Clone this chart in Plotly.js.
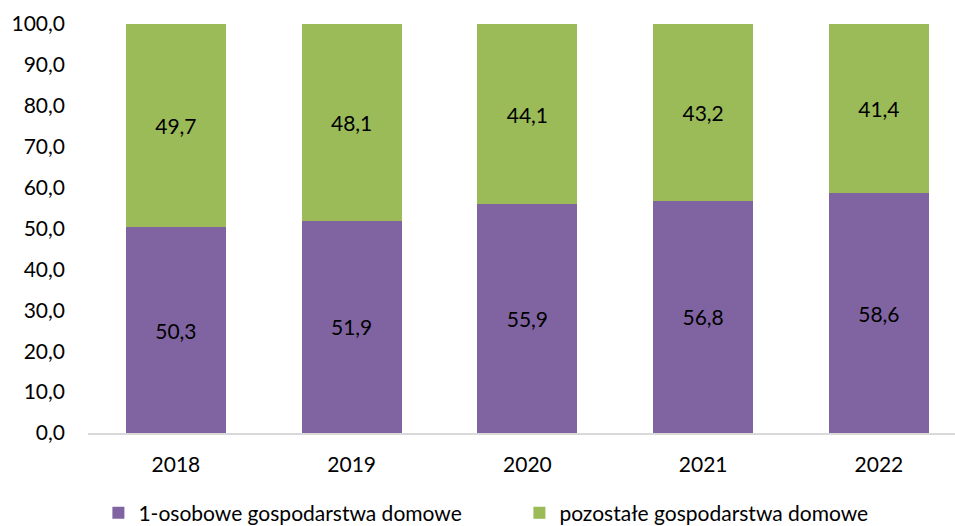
<!DOCTYPE html>
<html>
<head>
<meta charset="utf-8">
<script src="https://cdn.plot.ly/plotly-3.0.1.min.js"></script>
<style>html,body{margin:0;padding:0;background:#fff;}#chart{width:955px;height:526px;}</style>
</head>
<body>
<div id="chart"></div>
<script>
const years = ['2018', '2019', '2020', '2021', '2022'];
const oneperson = [50.3, 51.9, 55.9, 56.8, 58.6];
const others = [49.7, 48.1, 44.1, 43.2, 41.4];
const seriesNames = ['1-osobowe gospodarstwa domowe', 'pozostałe gospodarstwa domowe'];
const yTicks = [0, 10, 20, 30, 40, 50, 60, 70, 80, 90, 100];

const font = 'Lato, "Open Sans", sans-serif';
const common = {
  type: 'bar',
  x: years,
  textposition: 'inside',
  insidetextanchor: 'middle',
  texttemplate: '%{y:.1f}',
  textfont: {family: font, size: 21, color: '#000'},
  hoverinfo: 'skip'
};
const traces = [
  Object.assign({}, common, {y: oneperson, name: seriesNames[0], marker: {color: '#8064A2'}}),
  Object.assign({}, common, {y: others, name: seriesNames[1], marker: {color: '#9BBB59'}})
];
const layout = {
  width: 955, height: 526,
  barmode: 'stack',
  bargap: 0.43,
  separators: ', ',
  font: {family: font, size: 21, color: '#000'},
  margin: {l: 88, r: 0, t: 24, b: 93, autoexpand: false},
  paper_bgcolor: '#fff', plot_bgcolor: '#fff',
  xaxis: {
    type: 'category', range: [-0.5, 4.433],
    showline: true, linecolor: '#d9d9d9', linewidth: 2,
    ticks: '', showgrid: false, zeroline: false,
    ticklabelstandoff: 12,
    tickfont: {family: font, size: 21, color: '#000'}
  },
  yaxis: {
    range: [0, 100], tickvals: yTicks, tickformat: '.1f',
    showgrid: false, zeroline: false, showline: false, ticks: '',
    ticklabelstandoff: 22,
    tickfont: {family: font, size: 21, color: '#000'}
  },
  showlegend: true,
  legend: {
    orientation: 'h', x: 0.012, xanchor: 'left', y: -0.196, yanchor: 'middle',
    entrywidth: 376, entrywidthmode: 'pixels',
    font: {family: font, size: 21, color: '#000'},
    traceorder: 'normal'
  }
};
Plotly.newPlot('chart', traces, layout, {staticPlot: true, displayModeBar: false});
</script>
</body>
</html>
